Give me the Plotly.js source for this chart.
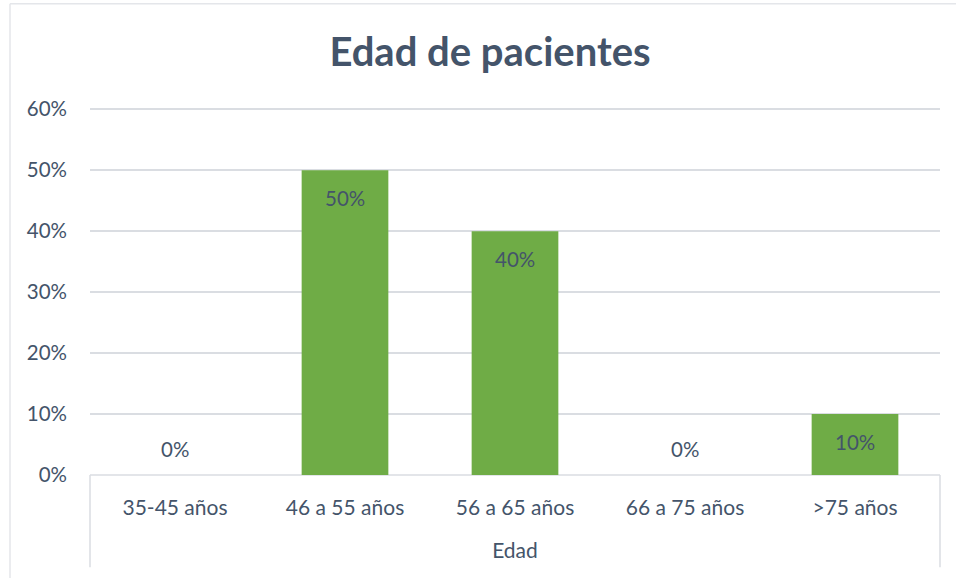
<!DOCTYPE html>
<html><head><meta charset="utf-8">
<script src="https://cdn.plot.ly/plotly-3.0.1.min.js"></script>
<style>html,body{margin:0;padding:0;background:#fff}#c{width:956px;height:578px}</style>
</head><body><div id="c"></div>
<script>
const categories = ["35-45 años", "46 a 55 años", "56 a 65 años", "66 a 75 años", ">75 años"];
const values = [0, 50, 40, 0, 10];
const yTicks = [0, 10, 20, 30, 40, 50, 60];
const yTickLabels = ["0%", "10%", "20%", "30%", "40%", "50%", "60%"];

const txt = '#44546A';
const font = 'Lato, "Noto Sans", sans-serif';
const lineCol = '#DADDE2';

const annotations = categories.map((c, i) => ({
  x: c, y: values[i], xref: 'x', yref: 'y',
  text: values[i] + '%', showarrow: false,
  yshift: values[i] > 0 ? -28 : 26,
  font: {family: font, size: 20.5, color: txt}
}));

const PW = 850, PH = 366;
const layout = {
  width: 956, height: 578,
  margin: {l: 90, r: 16, t: 108, b: 103},
  paper_bgcolor: '#fff', plot_bgcolor: '#fff',
  font: {family: font, color: txt, size: 20.5},
  title: {text: '<b>Edad de pacientes</b>', x: 490/956, xref: 'container', xanchor: 'center', y: 1 - 52/578, yanchor: 'middle',
          font: {family: font, size: 40, color: txt}},
  showlegend: false,
  bargap: 0.49,
  xaxis: {type: 'category', showgrid: false, zeroline: false, showline: false, ticks: '',
          ticklabelstandoff: 18, tickfont: {size: 21, color: txt},
          title: {text: 'Edad', standoff: 25, font: {size: 21, color: txt}}},
  yaxis: {range: [0, 60.2], tickvals: yTicks, ticktext: yTickLabels, showgrid: true, gridcolor: lineCol,
          gridwidth: 1.5, zeroline: false, showline: false, ticks: '', ticklabelstandoff: 22,
          tickfont: {size: 20.5, color: txt}},
  annotations: annotations,
  shapes: [
    {type: 'line', layer: 'below', xref: 'paper', yref: 'paper', x0: 0, x1: 1, y0: 0, y1: 0, line: {color: lineCol, width: 1.5}},
    {type: 'line', layer: 'below', xref: 'paper', yref: 'paper', x0: 0, x1: 0, y0: 0, y1: -92/PH, line: {color: lineCol, width: 1.5}},
    {type: 'line', layer: 'below', xref: 'paper', yref: 'paper', x0: 1, x1: 1, y0: 0, y1: -92/PH, line: {color: lineCol, width: 1.5}},
    {type: 'line', layer: 'below', xref: 'paper', yref: 'paper', x0: -80/PW, x1: -80/PW, y0: 470/PH, y1: -103/PH, line: {color: '#E4E6EA', width: 1.5}},
    {type: 'line', layer: 'below', xref: 'paper', yref: 'paper', x0: -80/PW, x1: 1 + 16/PW, y0: 470/PH, y1: 470/PH, line: {color: '#E4E6EA', width: 1.5}}
  ]
};

const trace = {
  type: 'bar', x: categories, y: values,
  marker: {color: '#6FAC46', line: {width: 0}},
  hoverinfo: 'skip'
};

Plotly.newPlot('c', [trace], layout, {staticPlot: true, displayModeBar: false});
</script></body></html>
